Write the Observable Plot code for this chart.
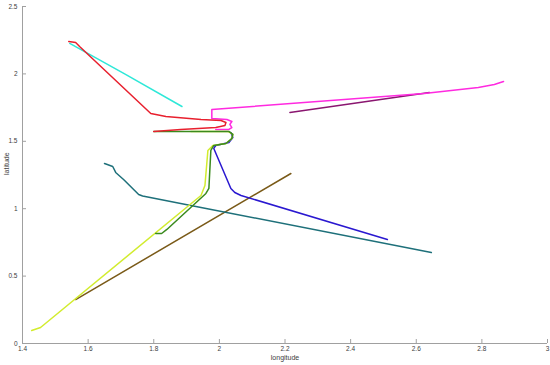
<!DOCTYPE html>
<html><head><meta charset="utf-8">
<script src="https://cdn.jsdelivr.net/npm/d3@7"></script>
<script src="https://cdn.jsdelivr.net/npm/@observablehq/plot@0.6"></script>
<style>body{margin:0;background:#fff;} #chart{width:550px;height:365px;}</style>
</head><body><div id="chart"></div>
<script>
const xTicks = [1.4, 1.6, 1.8, 2, 2.2, 2.4, 2.6, 2.8, 3];
const xTickLabels = ["1.4", "1.6", "1.8", "2", "2.2", "2.4", "2.6", "2.8", "3"];
const yTicks = [0, 0.5, 1, 1.5, 2, 2.5];
const yTickLabels = ["0", "0.5", "1", "1.5", "2", "2.5"];
const xLabel = "longitude";
const yLabel = "latitude";

const seriesNames = ["track 1", "track 2", "track 3", "track 4", "track 5", "track 6", "track 7", "track 8", "track 9"];

// track 1 (dark purple)
const track1Lon = [2.215, 2.640];
const track1Lat = [1.714, 1.862];
// track 2 (magenta)
const track2Lon = [1.989, 2.029, 2.038, 2.032, 2.038, 2.023, 1.977, 1.977, 2.624, 2.789, 2.838, 2.866];
const track2Lat = [1.588, 1.588, 1.602, 1.625, 1.647, 1.662, 1.669, 1.736, 1.855, 1.899, 1.921, 1.944];
// track 3 (cyan)
const track3Lon = [1.544, 1.714, 1.886];
const track3Lat = [2.226, 1.996, 1.758];
// track 4 (brown)
const track4Lon = [1.562, 2.218];
const track4Lat = [0.326, 1.261];
// track 5 (teal)
const track5Lon = [1.650, 1.675, 1.684, 1.708, 1.754, 1.766, 1.944, 2.646];
const track5Lat = [1.335, 1.313, 1.269, 1.217, 1.105, 1.094, 1.009, 0.675];
// track 6 (blue)
const track6Lon = [2.035, 2.041, 2.029, 1.989, 1.983, 2.035, 2.047, 2.066, 2.512];
const track6Lat = [1.565, 1.528, 1.491, 1.469, 1.447, 1.150, 1.120, 1.098, 0.772];
// track 7 (yellow-green)
const track7Lon = [1.428, 1.455, 1.944, 1.956, 1.965, 1.980, 2.020, 2.038, 2.041, 2.026, 1.913];
const track7Lat = [0.096, 0.119, 1.098, 1.172, 1.432, 1.469, 1.484, 1.521, 1.551, 1.573, 1.573];
// track 8 (green)
const track8Lon = [1.806, 1.824, 1.840, 1.959, 1.968, 1.974, 1.983, 2.020, 2.038, 2.041, 2.029, 1.800];
const track8Lat = [0.816, 0.816, 0.846, 1.113, 1.150, 1.432, 1.469, 1.484, 1.521, 1.551, 1.573, 1.573];
// track 9 (red)
const track9Lon = [1.541, 1.562, 1.574, 1.791, 1.837, 1.944, 2.005, 2.020, 2.017, 1.989, 1.882, 1.800];
const track9Lat = [2.240, 2.233, 2.203, 1.706, 1.684, 1.662, 1.654, 1.640, 1.617, 1.602, 1.588, 1.573];

const seriesLon = [track1Lon, track2Lon, track3Lon, track4Lon, track5Lon, track6Lon, track7Lon, track8Lon, track9Lon];
const seriesLat = [track1Lat, track2Lat, track3Lat, track4Lat, track5Lat, track6Lat, track7Lat, track8Lat, track9Lat];

const rows = seriesNames.flatMap((name, k) => seriesLon[k].map((lon, i) => ({name, lon, lat: seriesLat[k][i]})));

const colors = ["#8a1670", "#ff2ae0", "#2ee8d8", "#7a5a18", "#1e707a", "#2a18d0", "#d2ec2e", "#3a8a1e", "#e8202e"];

const axisColor = "#a0a0a0";
const textColor = "#404040";

const chart = Plot.plot({
  width: 550,
  height: 365,
  marginLeft: 22,
  marginRight: 3,
  marginTop: 6,
  marginBottom: 22,
  style: {fontFamily: "'Liberation Sans', Arial, sans-serif", fontSize: "6.5px", color: textColor, background: "#fff"},
  x: {domain: [1.4, 3]},
  y: {domain: [0, 2.5]},
  color: {type: "ordinal", domain: seriesNames, range: colors},
  marks: [
    Plot.ruleY([0], {stroke: axisColor, strokeWidth: 1}),
    Plot.ruleX([1.4], {stroke: axisColor, strokeWidth: 1}),
    Plot.tickX(xTicks, {x: d => d, stroke: axisColor, insetTop: 333}),
    Plot.tickY(yTicks, {y: d => d, stroke: axisColor, insetRight: 521}),
    Plot.axisX({ticks: xTicks, tickSize: 0, tickPadding: 3, tickFormat: d => xTickLabels[xTicks.indexOf(d)], label: null, fill: textColor}),
    Plot.axisY({ticks: yTicks, tickSize: 0, tickPadding: 5, tickFormat: d => yTickLabels[yTicks.indexOf(d)], label: null, fill: textColor}),
    Plot.text([xLabel], {frameAnchor: "bottom", dy: 16, fontSize: 7, fill: textColor, text: d => d}),
    Plot.text([yLabel], {frameAnchor: "left", dx: -16, rotate: -90, fontSize: 7, fill: textColor, text: d => d}),
    Plot.line(rows, {x: "lon", y: "lat", z: "name", stroke: "name", strokeWidth: 1.5, strokeLinejoin: "round", strokeLinecap: "round"})
  ]
});
document.getElementById("chart").appendChild(chart);
</script>
</body></html>
